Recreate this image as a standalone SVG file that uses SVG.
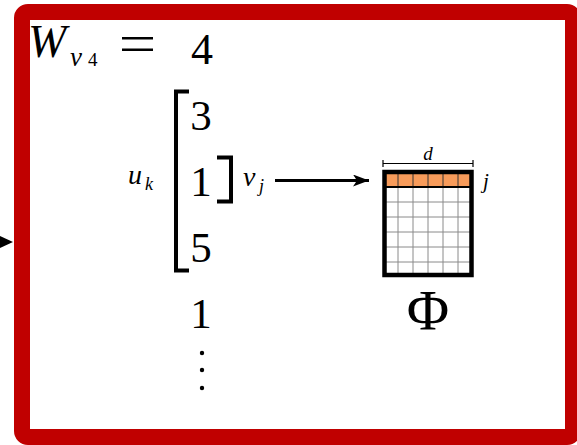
<svg xmlns="http://www.w3.org/2000/svg" width="577" height="445" viewBox="0 0 577 445">
<style>
text{fill:#000;font-family:"Liberation Serif","DejaVu Serif",serif}
.i{font-style:italic}
.br{fill:none;stroke:#000;stroke-width:4;stroke-linecap:butt}
.g{stroke:#8a8a8a;stroke-width:1}
</style>
<defs>
<marker id="ah" viewBox="0 0 16 12" refX="16" refY="6" markerWidth="16" markerHeight="12" markerUnits="userSpaceOnUse" orient="auto">
<path d="M0,0 L16,6 L0,12 L4,6 Z" fill="#000"/>
</marker>
</defs>
<rect width="577" height="445" fill="#fff"/>
<g id="frame">
<rect x="22" y="12" width="551" height="425" rx="6" fill="none" stroke="#c00000" stroke-width="16"/>
</g>
<g id="incoming"><polygon points="0,236 13,242 0,248" fill="#000"/></g>
<g id="header">
<text class="i" x="28" y="57" font-size="46">W</text>
<text class="i" x="70" y="66" font-size="27">v</text>
<text x="88" y="66" font-size="19">4</text>
<rect x="122" y="37" width="31" height="2.5" fill="#000"/>
<rect x="122" y="48.5" width="31" height="2.5" fill="#000"/>
<text x="202" y="64" font-size="44" text-anchor="middle">4</text>
</g>
<g id="uk">
<path class="br" d="M189,91.5 H176 V270.5 H189"/>
<text class="i" x="128" y="184" font-size="28">u</text>
<text class="i" x="145" y="190" font-size="18">k</text>
<text x="201" y="130" font-size="43" text-anchor="middle">3</text>
<text x="201" y="196" font-size="43" text-anchor="middle">1</text>
<text x="201" y="262" font-size="43" text-anchor="middle">5</text>
</g>
<g id="vj">
<path class="br" d="M217,157.5 H231 V201.5 H217"/>
<text class="i" x="243" y="186" font-size="28">v</text>
<text class="i" x="259" y="192" font-size="18">j</text>
</g>
<g id="rest">
<text x="201" y="328" font-size="43" text-anchor="middle">1</text>
<circle cx="202" cy="353" r="2.2" fill="#000"/>
<circle cx="202" cy="370" r="2.2" fill="#000"/>
<circle cx="202" cy="388" r="2.2" fill="#000"/>
</g>
<g id="phi">
<rect x="385" y="173" width="86" height="14" fill="#f79b5a"/>
<g class="g">
<line x1="398" y1="187" x2="398" y2="275"/>
<line x1="413" y1="187" x2="413" y2="275"/>
<line x1="428" y1="187" x2="428" y2="275"/>
<line x1="443" y1="187" x2="443" y2="275"/>
<line x1="458" y1="187" x2="458" y2="275"/>
<line x1="385" y1="202" x2="471" y2="202"/>
<line x1="385" y1="217" x2="471" y2="217"/>
<line x1="385" y1="232" x2="471" y2="232"/>
<line x1="385" y1="247" x2="471" y2="247"/>
<line x1="385" y1="262" x2="471" y2="262"/>
</g>
<g stroke="#333" stroke-width="1">
<line x1="398" y1="173" x2="398" y2="187"/>
<line x1="413" y1="173" x2="413" y2="187"/>
<line x1="428" y1="173" x2="428" y2="187"/>
<line x1="443" y1="173" x2="443" y2="187"/>
<line x1="458" y1="173" x2="458" y2="187"/>
</g>
<line x1="385" y1="187" x2="471" y2="187" stroke="#000" stroke-width="2"/>
<rect x="384.5" y="172" width="87" height="103" fill="none" stroke="#000" stroke-width="4.5"/>
<path d="M383,160 V167 M383,163.5 H473 M473,160 V167" fill="none" stroke="#000" stroke-width="1.2"/>
<text class="i" x="428" y="160" font-size="19" text-anchor="middle">d</text>
<text class="i" x="483" y="188" font-size="21">j</text>
<text x="428" y="330" font-size="58" text-anchor="middle">Φ</text>
</g>
<g id="connectors">
<line x1="275" y1="180.5" x2="369" y2="180.5" stroke="#000" stroke-width="3" marker-end="url(#ah)"/>
</g>
</svg>
